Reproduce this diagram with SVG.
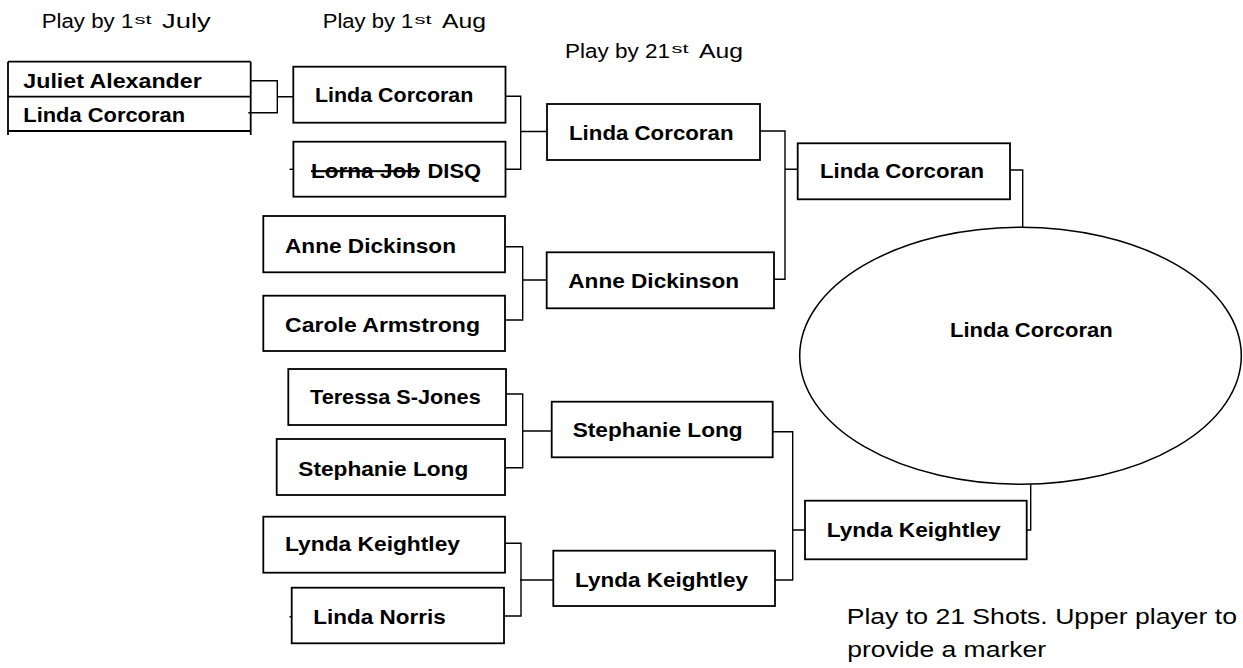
<svg xmlns="http://www.w3.org/2000/svg" width="1243" height="668" viewBox="0 0 1243 668">
<style>
  .box { fill: #fff; stroke: #000; stroke-width: 1.8; }
  .conn { fill: none; stroke: #000; stroke-width: 1.4; }
  .name { font-family: "Liberation Sans", Arial, sans-serif; font-weight: bold; font-size: 21px; fill: #000; }
  .hdr { font-family: "Liberation Sans", Arial, sans-serif; font-size: 20px; fill: #000; }
  .sup { font-family: "Liberation Sans", Arial, sans-serif; font-size: 13px; fill: #000; }
  .note { font-family: "Liberation Sans", Arial, sans-serif; font-size: 22px; fill: #000; }
</style>
<rect x="0" y="0" width="1243" height="668" fill="#fff"/>

<g id="headers">
  <text class="hdr" x="41.7" y="28.3" textLength="91.6" lengthAdjust="spacingAndGlyphs">Play by 1</text>
  <text class="sup" x="134.5" y="23.5" textLength="17" lengthAdjust="spacingAndGlyphs">st</text>
  <text class="hdr" x="162" y="28.3" textLength="48.7" lengthAdjust="spacingAndGlyphs">July</text>
  <text class="hdr" x="322.7" y="28.3" textLength="90.6" lengthAdjust="spacingAndGlyphs">Play by 1</text>
  <text class="sup" x="414.5" y="23.5" textLength="17" lengthAdjust="spacingAndGlyphs">st</text>
  <text class="hdr" x="442" y="28.3" textLength="44" lengthAdjust="spacingAndGlyphs">Aug</text>
  <text class="hdr" x="565" y="57.5" textLength="105" lengthAdjust="spacingAndGlyphs">Play by 21</text>
  <text class="sup" x="671.5" y="52.7" textLength="17" lengthAdjust="spacingAndGlyphs">st</text>
  <text class="hdr" x="699" y="57.5" textLength="44" lengthAdjust="spacingAndGlyphs">Aug</text>
</g>

<g id="connectors">
  <path class="conn" d="M250.7,80.7 H277.3 V112.7 H248.3 M277.3,96.7 H293.3"/>
  <path class="conn" d="M505.5,96.3 H520.7 V169.3 H505.5 M520.7,131.5 H547"/>
  <path class="conn" d="M289.5,169.3 H293.4"/>
  <path class="conn" d="M505,246.7 H522.7 V320 H505 M522.7,280 H546.7"/>
  <path class="conn" d="M506,394 H522.7 V467.7 H505 M522.7,431 H551.7"/>
  <path class="conn" d="M505,543.3 H521 V616 H504 M520,580 H553.3"/>
  <path class="conn" d="M289.5,616.7 H291.7"/>
  <path class="conn" d="M760,131 H785 V279.3 H774 M785,169.3 H797.7"/>
  <path class="conn" d="M772.7,431.7 H792.7 V580 H775 M792.7,530 H805"/>
  <path class="conn" d="M1010,170 H1022.7 V227.3"/>
  <path class="conn" d="M1026.7,530 H1030.7 V484.3"/>
</g>

<g id="r1-juliet-linda">
  <path class="box" d="M8,61.7 H250.7 M8,96.7 H250.7 M8,131 H250.7 M8,61.7 V135 M250.7,61.7 V135" fill="none"/>
  <text class="name" x="23.3" y="88.3" textLength="178.4" lengthAdjust="spacingAndGlyphs">Juliet Alexander</text>
  <text class="name" x="23.3" y="121.7" textLength="161.7" lengthAdjust="spacingAndGlyphs">Linda Corcoran</text>
</g>

<g id="r2-linda-corcoran">
  <rect class="box" x="293.3" y="66.7" width="212.2" height="56"/>
  <text class="name" x="315" y="101.7" textLength="158.3" lengthAdjust="spacingAndGlyphs">Linda Corcoran</text>
</g>
<g id="r2-lorna-job">
  <rect class="box" x="293.4" y="141.7" width="212.1" height="55"/>
  <text class="name" x="311" y="177.5" textLength="109" lengthAdjust="spacingAndGlyphs" style="text-decoration:line-through">Lorna Job</text>
  <text class="name" x="427.5" y="177.5" textLength="53.5" lengthAdjust="spacingAndGlyphs">DISQ</text>
</g>
<g id="r2-anne-dickinson">
  <rect class="box" x="263.3" y="216" width="241.7" height="56.3"/>
  <text class="name" x="285" y="252.7" textLength="171" lengthAdjust="spacingAndGlyphs">Anne Dickinson</text>
</g>
<g id="r2-carole-armstrong">
  <rect class="box" x="263.3" y="295.7" width="241.7" height="55.3"/>
  <text class="name" x="285" y="331.7" textLength="195" lengthAdjust="spacingAndGlyphs">Carole Armstrong</text>
</g>
<g id="r2-teressa">
  <rect class="box" x="288.3" y="369" width="217.7" height="56"/>
  <text class="name" x="310" y="404" textLength="170.7" lengthAdjust="spacingAndGlyphs">Teressa S-Jones</text>
</g>
<g id="r2-stephanie-long">
  <rect class="box" x="276.7" y="439" width="228.3" height="56"/>
  <text class="name" x="298.3" y="475.5" textLength="170" lengthAdjust="spacingAndGlyphs">Stephanie Long</text>
</g>
<g id="r2-lynda-keightley">
  <rect class="box" x="263.3" y="516.7" width="241.7" height="56"/>
  <text class="name" x="285" y="551" textLength="175" lengthAdjust="spacingAndGlyphs">Lynda Keightley</text>
</g>
<g id="r2-linda-norris">
  <rect class="box" x="291.7" y="587.7" width="212.3" height="55.6"/>
  <text class="name" x="313.3" y="624.3" textLength="132.4" lengthAdjust="spacingAndGlyphs">Linda Norris</text>
</g>

<g id="r3-linda-corcoran">
  <rect class="box" x="547" y="104" width="213" height="56"/>
  <text class="name" x="569" y="140" textLength="164.5" lengthAdjust="spacingAndGlyphs">Linda Corcoran</text>
</g>
<g id="r3-anne-dickinson">
  <rect class="box" x="546.7" y="252.3" width="227.3" height="56"/>
  <text class="name" x="568.3" y="288.3" textLength="170.7" lengthAdjust="spacingAndGlyphs">Anne Dickinson</text>
</g>
<g id="r3-stephanie-long">
  <rect class="box" x="551.7" y="401.7" width="221" height="55.6"/>
  <text class="name" x="572.7" y="437.3" textLength="170" lengthAdjust="spacingAndGlyphs">Stephanie Long</text>
</g>
<g id="r3-lynda-keightley">
  <rect class="box" x="553.3" y="550.7" width="221.7" height="55.3"/>
  <text class="name" x="575" y="586.7" textLength="173" lengthAdjust="spacingAndGlyphs">Lynda Keightley</text>
</g>

<g id="r4-linda-corcoran">
  <rect class="box" x="797.7" y="143.3" width="212.3" height="56"/>
  <text class="name" x="820" y="178.3" textLength="164" lengthAdjust="spacingAndGlyphs">Linda Corcoran</text>
</g>
<g id="r4-lynda-keightley">
  <rect class="box" x="805" y="500.7" width="221.7" height="58.6"/>
  <text class="name" x="826.7" y="536.7" textLength="174" lengthAdjust="spacingAndGlyphs">Lynda Keightley</text>
</g>

<g id="winner">
  <ellipse cx="1020.5" cy="355.8" rx="220.8" ry="128.5" fill="#fff" stroke="#000" stroke-width="1.5"/>
  <text class="name" x="950" y="337.3" textLength="162.7" lengthAdjust="spacingAndGlyphs">Linda Corcoran</text>
</g>

<g id="note">
  <text class="note" x="846.7" y="624" textLength="390.3" lengthAdjust="spacingAndGlyphs">Play to 21 Shots. Upper player to</text>
  <text class="note" x="847.3" y="656.7" textLength="198.7" lengthAdjust="spacingAndGlyphs">provide a marker</text>
</g>
</svg>
